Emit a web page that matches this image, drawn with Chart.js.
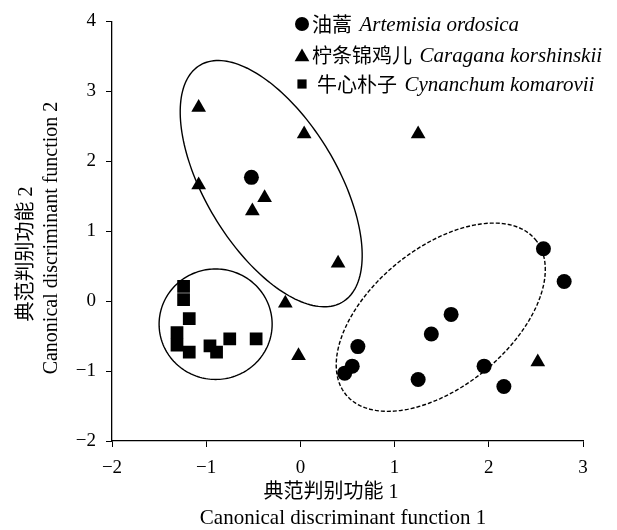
<!DOCTYPE html>
<html>
<head>
<meta charset="utf-8">
<script src="https://cdn.jsdelivr.net/npm/chart.js@4.4.1/dist/chart.umd.min.js"></script>
<style>
  html, body { margin: 0; padding: 0; background: #fff; }
  canvas { display: block; }
</style>
</head>
<body>
<canvas id="chart" width="617" height="530"></canvas>
<script>
// 油蒿 Artemisia ordosica
const artemisiaX = [-0.52, 2.58, 2.80, 1.60, 1.39, 0.61, 0.55, 0.47, 1.25, 1.95, 2.16];
const artemisiaY = [1.77, 0.75, 0.28, -0.19, -0.47, -0.65, -0.93, -1.03, -1.12, -0.93, -1.22];

// 柠条锦鸡儿 Caragana korshinskii
const caraganaX = [-1.08, 0.04, 1.25, -1.08, -0.38, -0.51, 0.40, -0.16, -0.02, 2.52];
const caraganaY = [2.77, 2.39, 2.39, 1.66, 1.48, 1.29, 0.54, -0.03, -0.78, -0.87];

// 牛心朴子 Cynanchum komarovii
const cynanchumX = [-1.24, -1.24, -1.18, -1.31, -1.31, -1.18, -0.96, -0.89, -0.75, -0.47];
const cynanchumY = [0.21, 0.02, -0.25, -0.45, -0.63, -0.73, -0.64, -0.73, -0.54, -0.54];

// 图例名称
const namesZh = ['油蒿', '柠条锦鸡儿', '牛心朴子'];
const namesLatin = ['Artemisia ordosica', 'Caragana korshinskii', 'Cynanchum komarovii'];

// 分组椭圆（数据单位：中心、两个半轴向量）
const ellipseCenters = [[-0.31, 1.68], [-0.90, -0.33], [1.49, -0.23]];
const ellipseAxisA = [[0.753, -1.696], [0.60, 0], [1.002, 1.115]];
const ellipseAxisB = [[-0.605, -0.473], [0, 0.79], [0.477, -0.754]];

// 刻度
const xTicks = [-2, -1, 0, 1, 2, 3];
const yTicks = [-2, -1, 0, 1, 2, 3, 4];

const SERIF = "'Liberation Serif', 'Noto Sans CJK SC', serif";
const CJK = "'Noto Sans CJK SC', sans-serif";

const toPoints = (xs, ys) => xs.map((v, i) => ({ x: v, y: ys[i] }));

// 椭圆
const ellipseDash = [[], [], [4, 2]];
const ellipsePlugin = {
    id: 'groupEllipses',
    beforeDatasetsDraw(chart) {
        const { ctx, scales: { x, y } } = chart;
        ellipseCenters.forEach((c, k) => {
            const a = ellipseAxisA[k];
            const b = ellipseAxisB[k];
            ctx.save();
            ctx.beginPath();
            for (let i = 0; i <= 180; i++) {
                const t = i / 180 * Math.PI * 2;
                const vx = c[0] + a[0] * Math.cos(t) + b[0] * Math.sin(t);
                const vy = c[1] + a[1] * Math.cos(t) + b[1] * Math.sin(t);
                const px = x.getPixelForValue(vx);
                const py = y.getPixelForValue(vy);
                if (i === 0) ctx.moveTo(px, py); else ctx.lineTo(px, py);
            }
            ctx.closePath();
            ctx.lineWidth = 1.4;
            ctx.strokeStyle = '#000';
            ctx.setLineDash(ellipseDash[k]);
            ctx.stroke();
            ctx.restore();
        });
    }
};

// 图例和坐标轴标题
const legendMarkers = [
    { style: 'circle', radius: 7 },
    { style: 'triangle', radius: 8.5 },
    { style: 'rect', radius: 6.5 }
];
const textPlugin = {
    id: 'customText',
    afterDraw(chart) {
        const ctx = chart.ctx;
        ctx.save();
        ctx.fillStyle = '#000';
        ctx.textBaseline = 'middle';

        // 图例
        const rowY = [24, 55, 84];
        const textX = [312, 312, 317];
        namesZh.forEach((name, i) => {
            Chart.helpers.drawPoint(ctx, {
                pointStyle: legendMarkers[i].style,
                radius: legendMarkers[i].radius,
                rotation: 0,
                borderWidth: 0
            }, 302, rowY[i] + (legendMarkers[i].style === 'triangle' ? 2 : 0));
            ctx.fillStyle = '#000';
            ctx.textAlign = 'left';
            ctx.font = '20px ' + CJK;
            ctx.fillText(name, textX[i], rowY[i]);
            const w = ctx.measureText(name + ' ').width;
            ctx.font = 'italic 21px ' + SERIF;
            ctx.fillText(namesLatin[i], textX[i] + w + 3, rowY[i] + 1);
        });

        // x 轴标题
        ctx.textAlign = 'center';
        ctx.font = '20px ' + SERIF;
        ctx.fillText('典范判别功能 1', 331, 493);
        ctx.font = '21px ' + SERIF;
        ctx.fillText('Canonical discriminant function 1', 343, 518);

        // y 轴标题
        ctx.save();
        ctx.translate(27, 254);
        ctx.rotate(-Math.PI / 2);
        ctx.font = '20px ' + SERIF;
        ctx.fillText('典范判别功能 2', 0, 0);
        ctx.restore();
        ctx.save();
        ctx.translate(52, 238);
        ctx.rotate(-Math.PI / 2);
        ctx.font = '20px ' + SERIF;
        ctx.fillText('Canonical discriminant function 2', 0, 0);
        ctx.restore();

        ctx.restore();
    }
};

const axisCommon = (ticks) => ({
    type: 'linear',
    min: ticks[0],
    max: ticks[ticks.length - 1],
    afterBuildTicks: (scale) => { scale.ticks = ticks.map(v => ({ value: v })); },
    ticks: {
        color: '#000',
        font: { family: SERIF, size: 19 },
        callback: (v) => (v < 0 ? '\u2212' + Math.abs(v) : String(v))
    },
    grid: {
        drawOnChartArea: false,
        drawTicks: true,
        tickLength: 6,
        color: '#000',
        lineWidth: 1
    },
    border: { display: true, color: '#000', width: 1.3 }
});

const xAxis = axisCommon(xTicks);
xAxis.ticks.padding = 10;
xAxis.afterFit = (scale) => { scale.height = 89; };

const yAxis = axisCommon(yTicks);
yAxis.ticks.padding = 10;
yAxis.afterFit = (scale) => { scale.width = 112; };

new Chart(document.getElementById('chart'), {
    type: 'scatter',
    data: {
        datasets: [
            {
                label: namesZh[0],
                data: toPoints(artemisiaX, artemisiaY),
                pointStyle: 'circle',
                pointRadius: 7.5,
                backgroundColor: '#000',
                borderColor: '#000',
                borderWidth: 0
            },
            {
                label: namesZh[1],
                data: toPoints(caraganaX, caraganaY),
                pointStyle: 'triangle',
                pointRadius: 8.5,
                backgroundColor: '#000',
                borderColor: '#000',
                borderWidth: 0
            },
            {
                label: namesZh[2],
                data: toPoints(cynanchumX, cynanchumY),
                pointStyle: 'rect',
                pointRadius: 9,
                backgroundColor: '#000',
                borderColor: '#000',
                borderWidth: 0
            }
        ]
    },
    options: {
        responsive: false,
        devicePixelRatio: 1,
        animation: false,
        layout: { padding: { left: 0, right: 34, top: 16, bottom: 0 } },
        plugins: {
            legend: { display: false },
            tooltip: { enabled: false },
            title: { display: false }
        },
        scales: { x: xAxis, y: yAxis }
    },
    plugins: [ellipsePlugin, textPlugin]
});
</script>
</body>
</html>
